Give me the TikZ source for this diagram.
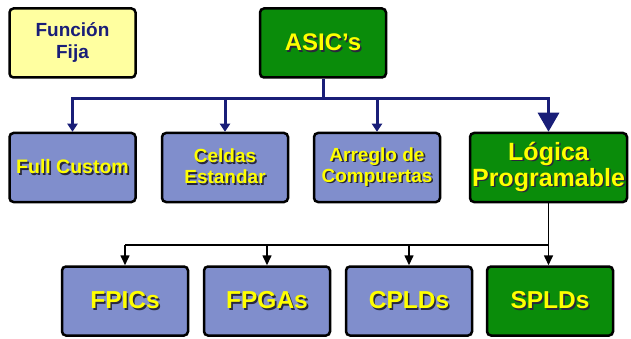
\documentclass[tikz,border=0pt]{standalone}
\usepackage{fontspec}
\setmainfont{Liberation Sans}
\usetikzlibrary{arrows.meta}
\definecolor{gboxfill}{RGB}{10,140,10}
\definecolor{bboxfill}{RGB}{128,142,204}
\definecolor{yboxfill}{RGB}{255,255,160}
\definecolor{navy}{RGB}{25,30,120}
\definecolor{txtyellow}{RGB}{255,255,0}
\definecolor{shadowc}{RGB}{40,40,60}
\newcommand\shd[1]{\makebox[0pt][l]{\kern1.6pt\raisebox{-1.6pt}{\textcolor{shadowc}{#1}}}#1}
\tikzset{
  boxbase/.style={draw=black, line width=2.5pt, rounded corners=4pt, inner sep=0pt, align=center},
  ybox/.style={boxbase, fill=yboxfill, text=navy},
  gbox/.style={boxbase, fill=gboxfill, text=txtyellow},
  bbox/.style={boxbase, fill=bboxfill, text=txtyellow},
  topsize/.style={minimum width=126pt, minimum height=69pt},
  fsmall/.style={font={\bfseries\fontsize{19}{22}\selectfont}},
  fmid/.style={font={\bfseries\fontsize{19}{21}\selectfont}},
  ffc/.style={font={\bfseries\fontsize{19.5}{21}\selectfont}},
  fbig/.style={font={\bfseries\fontsize{24.5}{26}\selectfont}},
  flp/.style={font={\bfseries\fontsize{25}{26}\selectfont}},
  fasic/.style={font={\bfseries\fontsize{24}{25}\selectfont}},
  bluecon/.style={draw=navy, line width=3pt},
  bluearr/.style={bluecon, -{Triangle[length=8pt,width=10pt]}},
  bigarr/.style={bluecon, -{Triangle[length=19pt,width=21pt]}},
  blackcon/.style={draw=black, line width=1.6pt},
  blackarr/.style={blackcon, -{Triangle[length=10pt,width=9pt]}},
}
\begin{document}
\begin{tikzpicture}[x=1pt,y=-1pt]
\useasboundingbox (0,0) rectangle (631,339);
% top row
\node[ybox, topsize, fsmall] (ff) at (72.5,43) {Función\\Fija};
\node[gbox, topsize, fasic] (asic) at (323,43) {\shd{ASIC’s}};
% second row
\node[bbox, topsize, ffc] (fc) at (72.5,167.5) {\shd{Full Custom}};
\node[bbox, topsize, fmid] (ce) at (225,167.5) {\shd{Celdas}\\\shd{Estandar}};
\node[bbox, topsize, fmid] (ac) at (377,167.5) {\shd{Arreglo de}\\\shd{Compuertas}};
\node[gbox, minimum width=157pt, minimum height=69pt, flp] (lp) at (548.5,167.5) {\shd{Lógica}\\\shd{Programable}};
% third row
\node[bbox, topsize, fbig] (fpic) at (125,301) {\shd{FPICs}};
\node[bbox, topsize, fbig] (fpga) at (267,301) {\shd{FPGAs}};
\node[bbox, topsize, fbig] (cpld) at (409,301) {\shd{CPLDs}};
\node[gbox, topsize, fbig] (spld) at (550,301) {\shd{SPLDs}};
% blue connectors
\coordinate (hb) at (0,99);
\coordinate (hl) at (72.5,99);
\coordinate (hr) at (548.5,99);
\draw[bluecon] (asic.south) -- (asic.south |- hb);
\draw[bluecon, line cap=rect] (hl) -- (hr);
\draw[bluearr] (fc.north |- hb) -- (fc.north);
\draw[bluearr] (ce.north |- hb) -- (ce.north);
\draw[bluearr] (ac.north |- hb) -- (ac.north);
\draw[bigarr] (lp.north |- hb) -- (lp.north);
% black connectors
\coordinate (kb) at (0,245);
\draw[blackarr] (lp.south) -- (lp.south |- spld.north);
\draw[blackcon] (fpic.north |- kb) -- (lp.south |- kb);
\draw[blackarr] (fpic.north |- kb) -- (fpic.north);
\draw[blackarr] (fpga.north |- kb) -- (fpga.north);
\draw[blackarr] (cpld.north |- kb) -- (cpld.north);
\end{tikzpicture}
\end{document}
